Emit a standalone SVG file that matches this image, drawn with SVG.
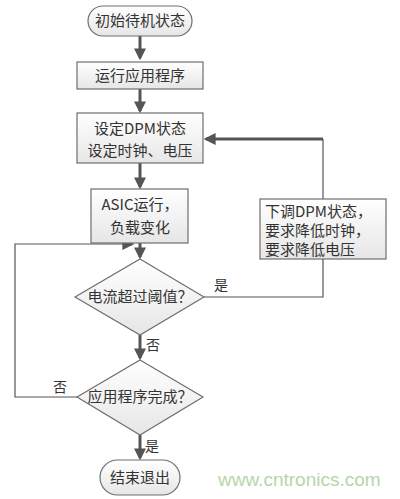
<svg xmlns="http://www.w3.org/2000/svg" width="400" height="499" viewBox="0 0 400 499">
<defs>
<linearGradient id="g" x1="0" y1="0" x2="0" y2="1">
<stop offset="0" stop-color="#ffffff"/>
<stop offset="1" stop-color="#e6e6e6"/>
</linearGradient>
<marker id="ah" markerWidth="4" markerHeight="4" refX="3.2" refY="2" orient="auto" markerUnits="strokeWidth">
<path d="M0,0 L4,2 L0,4 Z" fill="#555"/>
</marker>
</defs>
<style>
.n{fill:url(#g);stroke:#6e6e6e;stroke-width:1.2}
.t{font-family:"Noto Sans CJK SC","Liberation Sans",sans-serif;font-size:15px;fill:#333;text-anchor:middle}
.r{font-family:"Noto Sans CJK SC","Liberation Sans",sans-serif;font-size:15px;fill:#333}
.l{font-family:"Noto Sans CJK SC","Liberation Sans",sans-serif;font-size:14px;fill:#333}
.a{fill:none;stroke:#555;stroke-width:3}
.th{fill:none;stroke:#555;stroke-width:1.2}
</style>
<rect width="400" height="499" fill="#fff"/>
<g id="connectors">
<line class="a" x1="140" y1="36" x2="140" y2="58" marker-end="url(#ah)"/>
<line class="a" x1="140" y1="89" x2="140" y2="111" marker-end="url(#ah)"/>
<line class="a" x1="140" y1="163" x2="140" y2="187" marker-end="url(#ah)"/>
<line class="a" x1="140" y1="243" x2="140" y2="257" marker-end="url(#ah)"/>
<line class="a" x1="140" y1="335" x2="140" y2="358" marker-end="url(#ah)"/>
<line class="a" x1="140" y1="435" x2="140" y2="458" marker-end="url(#ah)"/>
<polyline class="th" points="204,297 323,297 323,259"/>
<line class="th" x1="323" y1="199" x2="323" y2="139"/>
<line class="a" x1="323" y1="139" x2="206" y2="139" marker-end="url(#ah)"/>
<polyline class="th" points="77,397 15,397 15,244 125,244"/>
<line class="a" x1="124" y1="244" x2="132" y2="244" marker-end="url(#ah)"/>
</g>
<g id="start"><rect class="n" x="88" y="6" width="104" height="30" rx="15"/><text class="t" x="140" y="26">初始待机状态</text></g>
<g id="run"><rect class="n" x="77" y="62" width="126" height="27"/><text class="t" x="140" y="81">运行应用程序</text></g>
<g id="dpm"><rect class="n" x="77" y="113" width="126" height="50"/><text class="t" x="140" y="134">设定DPM状态</text><text class="t" x="140" y="156">设定时钟、电压</text></g>
<g id="asic"><rect class="n" x="91" y="189" width="97" height="54"/><text class="t" x="140" y="210">ASIC运行，</text><text class="t" x="140" y="233">负载变化</text></g>
<g id="down"><rect class="n" x="260" y="199" width="126" height="60"/><text class="r" x="265" y="217">下调DPM状态，</text><text class="r" x="265" y="236">要求降低时钟，</text><text class="r" x="265" y="255">要求降低电压</text></g>
<g id="d1"><polygon class="n" points="140,259 204,297 140,335 75,297"/><text class="t" x="140" y="302">电流超过阈值？</text></g>
<g id="d2"><polygon class="n" points="140,360 203,397 140,435 77,397"/><text class="t" x="140" y="402">应用程序完成？</text></g>
<g id="end"><rect class="n" x="100" y="460" width="80" height="35" rx="17.5"/><text class="t" x="140" y="483">结束退出</text></g>
<g id="labels">
<text class="l" x="214" y="290">是</text>
<text class="l" x="146" y="350">否</text>
<text class="l" x="53" y="392">否</text>
<text class="l" x="145" y="451">是</text>
</g>
<text x="218" y="486" font-family="Liberation Sans, sans-serif" font-size="19" fill="#b5d6a8">www.cntronics.com</text>
</svg>
